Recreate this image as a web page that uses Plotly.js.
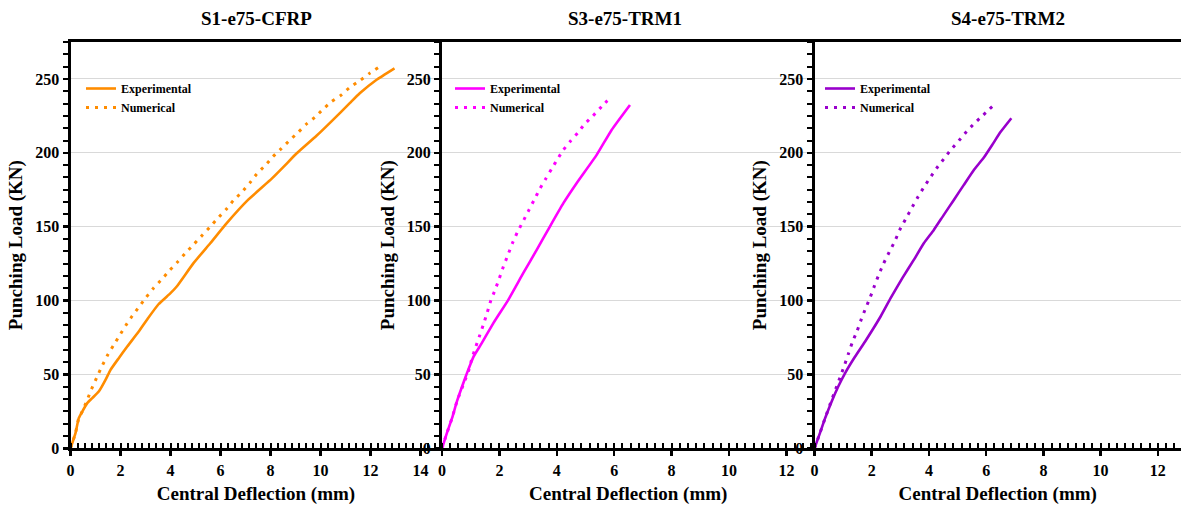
<!DOCTYPE html>
<html>
<head>
<meta charset="utf-8">
<script src="https://cdn.plot.ly/plotly-3.0.1.min.js"></script>
<style>html,body{margin:0;padding:0;background:#fff;}#chart{width:1181px;height:508px;}</style>
</head>
<body>
<div id="chart"></div>
<script>
// ---------- Data ----------
const panelTitles = ["S1-e75-CFRP", "S3-e75-TRM1", "S4-e75-TRM2"];
const seriesNames = ["Experimental", "Numerical"];
const xTitle = "Central Deflection (mm)";
const yTitle = "Punching Load (KN)";

// S1-e75-CFRP
const exp1X = [0, 0.2, 0.33, 0.47, 0.67, 0.87, 1.13, 1.4, 1.6, 1.93, 2.27, 2.73, 3.1, 3.52, 4.0, 4.25, 4.92, 5.59, 6.25, 7.1, 8.05, 8.55, 9.04, 9.84, 10.5, 11.17, 11.57, 12.23, 12.96];
const exp1Y = [0, 10.3, 20.4, 24.9, 30.6, 34, 38.4, 46.3, 53.1, 61, 68.9, 79, 88, 97.5, 105, 109.5, 125.3, 138.8, 152.4, 168.1, 182.5, 191, 199.5, 211.5, 222.3, 233.6, 240.3, 249.3, 257.2];
const num1X = [0, 0.2, 0.33, 0.47, 0.67, 0.84, 1.04, 1.24, 1.47, 1.71, 1.96, 2.21, 2.47, 2.75, 3.03, 3.32, 3.66, 3.96, 4.3, 4.62, 4.95, 5.28, 5.59, 5.89, 6.21, 6.51, 6.85, 7.18, 7.45, 7.78, 8.1, 8.44, 8.78, 9.1, 9.44, 9.77, 10.1, 10.44, 10.84, 11.17, 11.57, 11.97, 12.3];
const num1Y = [0, 10.3, 20.4, 24.9, 32.8, 40, 47.5, 54.9, 62.6, 69.4, 76.3, 83.1, 89.6, 95.9, 102.3, 108.4, 114.5, 120.3, 126.4, 132.5, 138.4, 144.4, 150, 155.7, 161.4, 167.6, 173.3, 179.8, 185.7, 191.3, 197.4, 203, 208.7, 213.7, 219.5, 224, 229.5, 234.6, 239.2, 244.3, 248.8, 253.9, 257.6];

// S3-e75-TRM1
const exp2X = [0, 0.17, 0.35, 0.52, 0.7, 0.87, 1.1, 1.38, 1.79, 2.31, 2.83, 3.3, 3.76, 4.23, 4.69, 5.39, 5.91, 6.55];
const exp2Y = [0, 10.3, 20.4, 31.7, 41.8, 50.9, 62.1, 71, 84.7, 100.5, 118.5, 134.3, 150.1, 165.9, 179.4, 198.6, 215.5, 232.4];
const num2X = [0, 0.17, 0.35, 0.52, 0.78, 0.92, 1.03, 1.16, 1.3, 1.44, 1.58, 1.7, 1.85, 2.0, 2.14, 2.29, 2.45, 2.62, 2.81, 3.0, 3.2, 3.41, 3.61, 3.82, 4.03, 4.23, 4.48, 4.74, 4.97, 5.26, 5.56, 5.85];
const num2Y = [0, 10.3, 20.4, 31.7, 45, 52, 59.9, 67.8, 75.6, 83.6, 92.1, 100, 107.2, 115.2, 123, 130.5, 138.6, 146, 153, 160.2, 167.7, 175.6, 182.3, 189.1, 195.9, 202, 208, 213.7, 219.5, 225, 231.3, 237];

// S4-e75-TRM2
const exp3X = [0, 0.19, 0.37, 0.6, 0.83, 1.07, 1.42, 1.77, 2.31, 2.66, 3.07, 3.47, 3.82, 4.17, 4.52, 4.87, 5.22, 5.57, 5.92, 6.21, 6.5, 6.88];
const exp3Y = [0, 10.3, 20.4, 31.7, 41.8, 50.9, 62.1, 72.3, 89.2, 101.6, 115.2, 127.5, 138.8, 147.8, 158, 168.1, 178.3, 188.4, 196.8, 205.3, 214, 223.4];
const num3X = [0, 0.19, 0.37, 0.6, 0.74, 0.89, 1.04, 1.18, 1.32, 1.49, 1.64, 1.79, 1.95, 2.1, 2.26, 2.42, 2.61, 2.8, 2.98, 3.18, 3.38, 3.59, 3.8, 4.03, 4.27, 4.52, 4.78, 5.05, 5.31, 5.59, 5.9, 6.21];
const num3Y = [0, 10.3, 20.4, 32.8, 40, 47.9, 55.8, 63.7, 71.6, 79.5, 87.6, 94.9, 102.3, 110.2, 118.1, 125.3, 132.7, 139.9, 147.8, 155, 162, 169.3, 176, 182.8, 189.6, 195.9, 202.4, 208.3, 214.3, 220, 225.6, 231.3];

const colors = ["#FF8C00", "#FF00FF", "#9900CC"];
// ---------------------------------------------------

const W = 1181, H = 508;
const fx = v => v / W;
const fy = v => 1 - v / H;
const FONT = "Liberation Serif, Times New Roman, serif";

const panels = [
  {ex: exp1X, ey: exp1Y, nx: num1X, ny: num1Y, dom: [70.5, 441.5], xr: [0, 14.84], tx: 256, lx: 81, leg: "legend"},
  {ex: exp2X, ey: exp2Y, nx: num2X, ny: num2Y, dom: [442, 814.5], xr: [0, 12.98], tx: 625, lx: 450, leg: "legend2"},
  {ex: exp3X, ey: exp3Y, nx: num3X, ny: num3Y, dom: [814.5, 1181], xr: [0, 12.81], tx: 1008, lx: 820, leg: "legend3"}
];

const traces = [];
const layout = {
  width: W, height: H,
  margin: {l: 0, r: 0, t: 0, b: 0},
  paper_bgcolor: "#fff", plot_bgcolor: "rgba(0,0,0,0)",
  font: {family: FONT, color: "#000", weight: "bold"},
  annotations: []
};

panels.forEach((p, i) => {
  const k = i === 0 ? "" : String(i + 1);
  traces.push({
    x: p.ex, y: p.ey, type: "scatter", mode: "lines", name: seriesNames[0],
    xaxis: "x" + k, yaxis: "y" + k, legend: p.leg,
    line: {color: colors[i], width: 2.6, shape: "spline", smoothing: 0.4}
  });
  traces.push({
    x: p.nx, y: p.ny, type: "scatter", mode: "lines", name: seriesNames[1],
    xaxis: "x" + k, yaxis: "y" + k, legend: p.leg,
    line: {color: colors[i], width: 3, dash: "3px,6px", shape: "spline", smoothing: 0.4}
  });
  layout["xaxis" + k] = {
    domain: [fx(p.dom[0]), fx(p.dom[1])], range: p.xr, anchor: "y" + k,
    dtick: 2, tick0: 0, ticks: "outside", ticklen: 5, tickwidth: 2.5, tickcolor: "#000",
    minor: {dtick: 2 / 7, ticks: "inside", ticklen: 5, tickwidth: 2, tickcolor: "#000", showgrid: false},
    showline: true, linewidth: 3, linecolor: "#000", mirror: true,
    showgrid: false, zeroline: false,
    tickfont: {family: FONT, size: 16, color: "#000", weight: "bold"},
    title: {text: xTitle, font: {family: FONT, size: 19, color: "#000", weight: "bold"}, standoff: 10},
    automargin: false, fixedrange: true
  };
  layout["yaxis" + k] = {
    domain: [fy(448.3), fy(42)], range: [0, 275], anchor: "x" + k,
    dtick: 50, tick0: 0, ticks: "outside", ticklen: 5, tickwidth: 2.5, tickcolor: "#000",
    minor: {dtick: 50 / 6, ticks: "outside", ticklen: 5, tickwidth: 2, tickcolor: "#000", showgrid: false},
    showline: true, linewidth: 3, linecolor: "#000", mirror: false,
    showgrid: true, gridcolor: "#d9d9d9", gridwidth: 1, zeroline: false,
    tickfont: {family: FONT, size: 16, color: "#000", weight: "bold"},
    title: {text: yTitle, font: {family: FONT, size: 19, color: "#000", weight: "bold"}, standoff: 8},
    automargin: false, fixedrange: true
  };
  layout[p.leg] = {
    x: fx(p.lx), y: fy(74), xanchor: "left", yanchor: "top",
    bgcolor: "rgba(0,0,0,0)", borderwidth: 0,
    font: {family: FONT, size: 12, color: "#000", weight: "bold"},
    itemwidth: 30, tracegroupgap: 0
  };
  layout.annotations.push({
    text: panelTitles[i], xref: "paper", yref: "paper",
    x: fx(p.tx), y: fy(18), xanchor: "center", yanchor: "middle", showarrow: false,
    font: {family: FONT, size: 19, color: "#000", weight: "bold"}
  });
});

Plotly.newPlot("chart", traces, layout, {staticPlot: true, displayModeBar: false});
</script>
</body>
</html>
